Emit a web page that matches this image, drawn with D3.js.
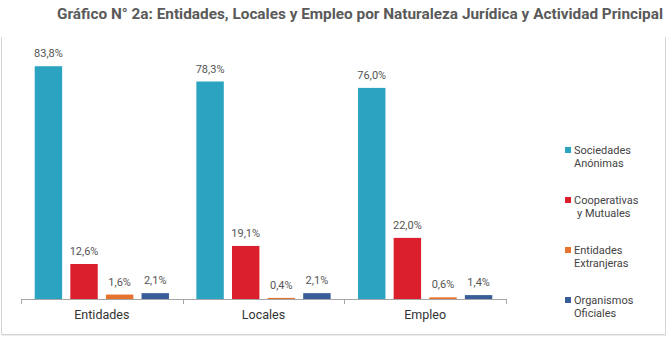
<!DOCTYPE html>
<html><head><meta charset="utf-8">
<script src="https://cdn.jsdelivr.net/npm/d3@7"></script>
<style>
html,body{margin:0;padding:0;background:#fff;}
svg{display:block;font-family:Roboto, "Noto Sans", sans-serif;}
</style></head>
<body>
<svg id="chart" width="669" height="337"></svg>
<script>
const title = "Gráfico N° 2a: Entidades, Locales y Empleo por Naturaleza Jurídica y Actividad Principal";
const categories = ["Entidades", "Locales", "Empleo"];
const seriesNames = [["Sociedades", "Anónimas"], ["Cooperativas", "y Mutuales"], ["Entidades", "Extranjeras"], ["Organismos", "Oficiales"]];
const seriesKeys = ["sa", "coop", "ext", "org"];
const seriesColors = ["#2ba4c2", "#dc1f2c", "#e8732f", "#385d98"];
const saValues   = [83.8, 78.3, 76.0];
const coopValues = [12.6, 19.1, 22.0];
const extValues  = [1.6, 0.4, 0.6];
const orgValues  = [2.1, 2.1, 1.4];
const valueLabels = [["83,8%", "78,3%", "76,0%"], ["12,6%", "19,1%", "22,0%"], ["1,6%", "0,4%", "0,6%"], ["2,1%", "2,1%", "1,4%"]];
const seriesValues = [saValues, coopValues, extValues, orgValues];

const svg = d3.select("#chart");

// frame
svg.append("path")
  .attr("d", "M1.5,37 L1.5,334.5 L665.5,334.5 L665.5,37")
  .attr("fill", "none").attr("stroke", "#d4d4d4").attr("stroke-width", 1);
svg.append("line").attr("x1", 2).attr("x2", 666).attr("y1", 335.5).attr("y2", 335.5)
  .attr("stroke", "#ececec");

// title
const t = svg.append("text").attr("x", 663).attr("y", 19).attr("text-anchor", "end")
  .attr("font-size", 14.5).attr("font-weight", "bold").attr("fill", "#5a5a5a").text(title);
const tl = t.node().getComputedTextLength();
if (Math.abs(tl - 606) > 4) t.attr("textLength", 606).attr("lengthAdjust", "spacingAndGlyphs");

const x0 = d3.scaleBand().domain(categories).range([21, 506]).paddingInner(0).paddingOuter(0);
const x1 = d3.scaleBand().domain(seriesKeys).range([0, x0.bandwidth()]).paddingInner(0.23).paddingOuter(0.385);
const y = d3.scaleLinear().domain([0, 90]).range([299, 49]);

const g = svg.append("g");
categories.forEach((c, ci) => {
  seriesKeys.forEach((k, si) => {
    const v = seriesValues[si][ci];
    const bx = x0(c) + x1(k);
    g.append("rect").attr("x", bx).attr("y", y(v)).attr("width", x1.bandwidth())
      .attr("height", y(0) - y(v)).attr("fill", seriesColors[si]);
    g.append("text").attr("x", bx + x1.bandwidth() / 2).attr("y", y(v) - 9)
      .attr("text-anchor", "middle").attr("font-size", 11).attr("fill", "#555")
      .text(valueLabels[si][ci]);
  });
});

// axis
const axis = svg.append("g").attr("transform", "translate(0,299)");
axis.append("line").attr("x1", 21).attr("x2", 506).attr("y1", 0.5).attr("y2", 0.5).attr("stroke", "#a6a6a6");
const tickXs = categories.map(c => x0(c)).concat([x0.range()[1]]);
tickXs.forEach(tx => {
  axis.append("line").attr("x1", Math.round(tx) + 0.5).attr("x2", Math.round(tx) + 0.5)
    .attr("y1", 0).attr("y2", 5).attr("stroke", "#a6a6a6");
});
categories.forEach(c => {
  axis.append("text").attr("x", x0(c) + x0.bandwidth() / 2).attr("y", 20)
    .attr("text-anchor", "middle").attr("font-size", 12.5).attr("fill", "#333").text(c);
});

// legend
const leg = svg.append("g");
seriesNames.forEach((nm, i) => {
  const cy = 150 + i * 50;
  leg.append("rect").attr("x", 565).attr("y", cy - 3).attr("width", 6).attr("height", 6).attr("fill", seriesColors[i]);
  nm.forEach((line, li) => {
    leg.append("text").attr("x", 574 + (i === 1 && li === 1 ? 3 : 0)).attr("y", cy + 4 + li * 13)
      .attr("font-size", 11).attr("fill", "#444").text(line);
  });
});
</script>
</body></html>
